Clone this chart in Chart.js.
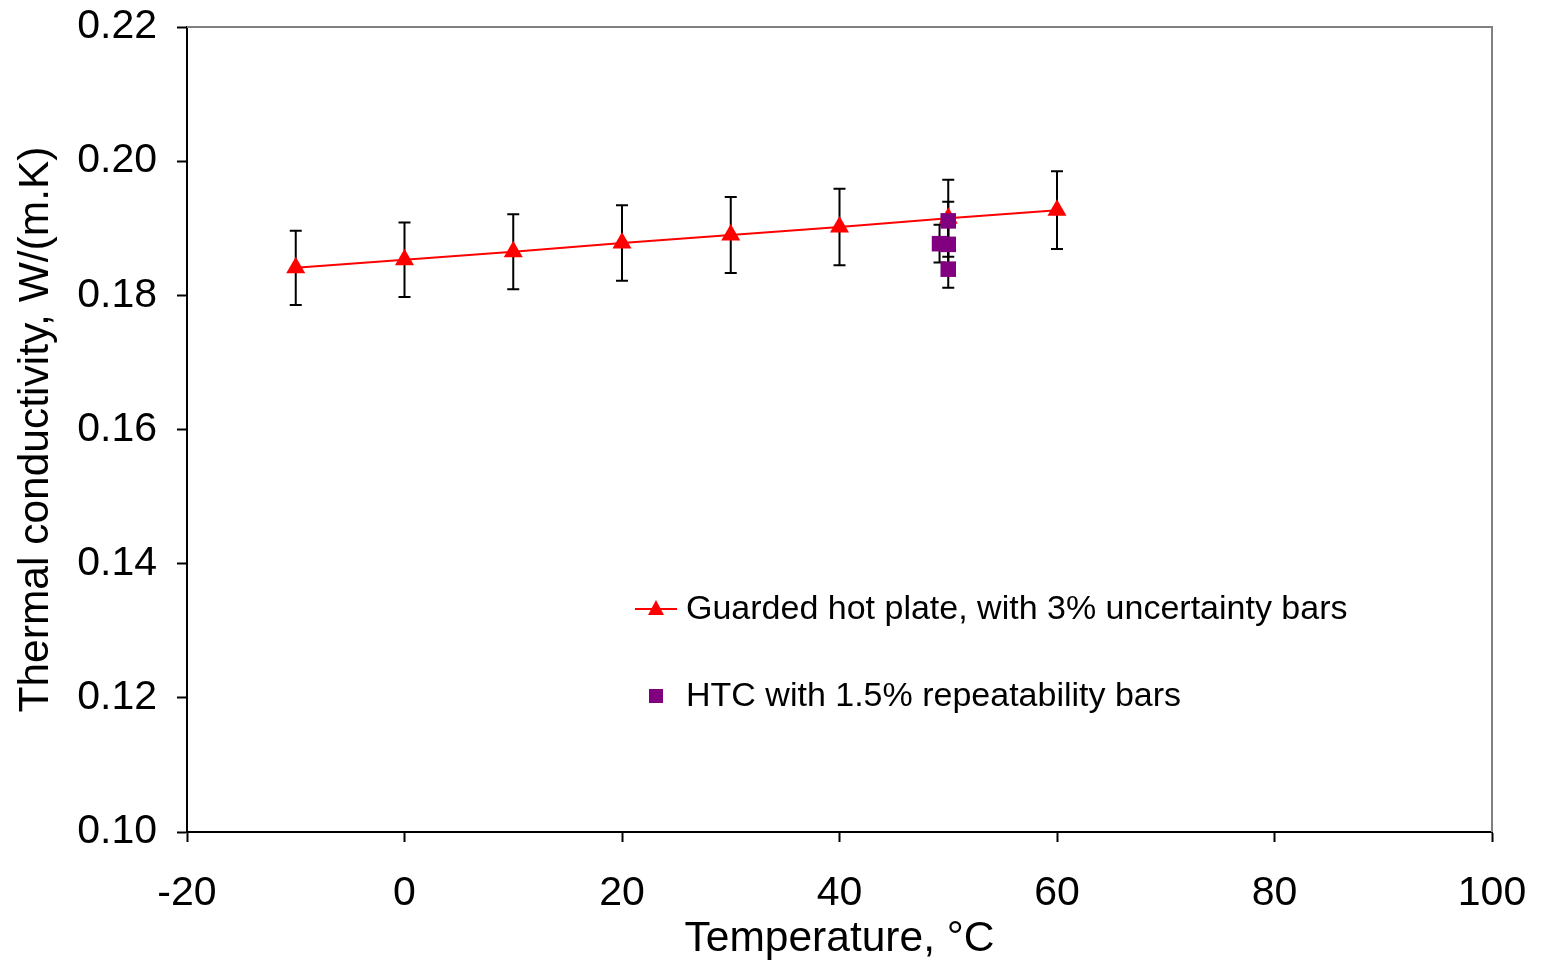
<!DOCTYPE html>
<html>
<head>
<meta charset="utf-8">
<script src="https://cdn.jsdelivr.net/npm/chart.js@4"></script>
<style>
  body { margin: 0; background: #fff; }
  canvas { display: block; }
</style>
</head>
<body>
<canvas id="chart" width="1545" height="965"></canvas>
<script>
// guarded hot plate series
const ghpTemps = [-10, 0, 10, 20, 30, 40, 50, 60];
const ghpValues = [0.1841, 0.1853, 0.1865, 0.1878, 0.1890, 0.1902, 0.1915, 0.1927];
const ghpError = 0.03;

// HTC measurements
const htcTemps = [50, 49.2, 50, 50];
const htcValues = [0.1911, 0.1877, 0.1876, 0.1839];
const htcError = 0.015;

const xTicks = [-20, 0, 20, 40, 60, 80, 100];
const yTicks = [0.10, 0.12, 0.14, 0.16, 0.18, 0.20, 0.22];

const legendLabels = [
  "Guarded hot plate, with 3% uncertainty bars",
  "HTC with 1.5% repeatability bars"
];

const FONT = "Liberation Sans, Arial, sans-serif";

function toPoints(xs, ys){
  return xs.map((x, i) => ({ x: x, y: ys[i] }));
}

const errorBars = {
  id: 'errorBars',
  beforeDatasetsDraw(chart){
    const ctx = chart.ctx;
    const xs = chart.scales.x;
    const ys = chart.scales.y;
    ctx.save();
    ctx.strokeStyle = '#000';
    ctx.lineWidth = 2;
    chart.data.datasets.forEach(ds => {
      ds.data.forEach(p => {
        const px = xs.getPixelForValue(p.x);
        const top = ys.getPixelForValue(p.y * (1 + ds.errorFraction));
        const bot = ys.getPixelForValue(p.y * (1 - ds.errorFraction));
        ctx.beginPath();
        ctx.moveTo(px, top); ctx.lineTo(px, bot);
        ctx.moveTo(px - 6, top); ctx.lineTo(px + 6, top);
        ctx.moveTo(px - 6, bot); ctx.lineTo(px + 6, bot);
        ctx.stroke();
      });
    });
    ctx.restore();
  }
};

const frame = {
  id: 'frame',
  beforeDatasetsDraw(chart){
    const a = chart.chartArea;
    const ctx = chart.ctx;
    ctx.save();
    ctx.strokeStyle = '#808080';
    ctx.lineWidth = 2;
    ctx.beginPath();
    ctx.moveTo(a.left, a.top);
    ctx.lineTo(a.right, a.top);
    ctx.lineTo(a.right, a.bottom);
    ctx.stroke();
    ctx.restore();
  }
};

const insideLegend = {
  id: 'insideLegend',
  afterDraw(chart){
    const ctx = chart.ctx;
    ctx.save();
    ctx.font = "34px " + FONT;
    ctx.fillStyle = '#000';
    ctx.textBaseline = 'middle';

    // first entry: line with triangle
    let y = 609;
    ctx.strokeStyle = '#ff0000';
    ctx.lineWidth = 2;
    ctx.beginPath();
    ctx.moveTo(635, y); ctx.lineTo(677, y);
    ctx.stroke();
    ctx.fillStyle = '#ff0000';
    ctx.beginPath();
    ctx.moveTo(656, y - 9);
    ctx.lineTo(664, y + 6);
    ctx.lineTo(648, y + 6);
    ctx.closePath();
    ctx.fill();
    ctx.fillStyle = '#000';
    ctx.fillText(legendLabels[0], 686, y + 1);

    // second entry: square
    y = 696;
    ctx.fillStyle = '#800080';
    ctx.fillRect(649, y - 7, 14, 14);
    ctx.fillStyle = '#000';
    ctx.fillText(legendLabels[1], 686, y + 1);
    ctx.restore();
  }
};

new Chart(document.getElementById("chart"), {

  type: 'scatter',

  data: {
    datasets: [
      {
        label: legendLabels[1],
        data: toPoints(htcTemps, htcValues),
        errorFraction: htcError,
        pointStyle: 'rect',
        pointRadius: 11,
        backgroundColor: '#800080',
        borderColor: '#800080',
        borderWidth: 0,
        showLine: false,
        order: 0
      },
      {
        label: legendLabels[0],
        data: toPoints(ghpTemps, ghpValues),
        errorFraction: ghpError,
        pointStyle: 'triangle',
        pointRadius: 11,
        backgroundColor: '#ff0000',
        borderColor: '#ff0000',
        pointBorderWidth: 0,
        borderWidth: 2,
        showLine: true,
        order: 1
      }
    ]
  },

  options: {
    responsive: false,
    animation: false,
    layout: {
      padding: { left: 0, right: 53, top: 27, bottom: 0 }
    },
    plugins: {
      legend: { display: false },
      tooltip: { enabled: false }
    },
    scales: {
      x: {
        type: 'linear',
        min: -20,
        max: 100,
        afterFit(scale){
          scale.height = 133;
          scale.paddingLeft = 0;
          scale.paddingRight = 0;
        },
        afterBuildTicks(scale){ scale.ticks = xTicks.map(v => ({ value: v })); },
        grid: {
          drawOnChartArea: false,
          drawTicks: true,
          tickLength: 10,
          tickWidth: 2,
          color: '#000'
        },
        border: { display: true, color: '#000', width: 2 },
        ticks: {
          color: '#000',
          padding: 27,
          maxRotation: 0,
          font: { family: FONT, size: 41 }
        },
        title: {
          display: true,
          text: 'Temperature, °C',
          color: '#000',
          padding: { top: 0, bottom: 0 },
          font: { family: FONT, size: 42.5, lineHeight: 1.2 }
        }
      },
      y: {
        type: 'linear',
        min: 0.10,
        max: 0.22,
        afterFit(scale){
          scale.width = 187;
          scale.paddingTop = 0;
          scale.paddingBottom = 0;
        },
        afterBuildTicks(scale){ scale.ticks = yTicks.map(v => ({ value: v })); },
        grid: {
          drawOnChartArea: false,
          drawTicks: true,
          tickLength: 10,
          tickWidth: 2,
          color: '#000'
        },
        border: { display: true, color: '#000', width: 2 },
        ticks: {
          color: '#000',
          padding: 20,
          font: { family: FONT, size: 41 },
          callback: v => v.toFixed(2)
        },
        title: {
          display: true,
          text: 'Thermal conductivity, W/(m.K)',
          color: '#000',
          padding: { top: 11, bottom: 11 },
          font: { family: FONT, size: 42.5, lineHeight: 1.2 }
        }
      }
    }
  },

  plugins: [errorBars, frame, insideLegend]

});
</script>
</body>
</html>
